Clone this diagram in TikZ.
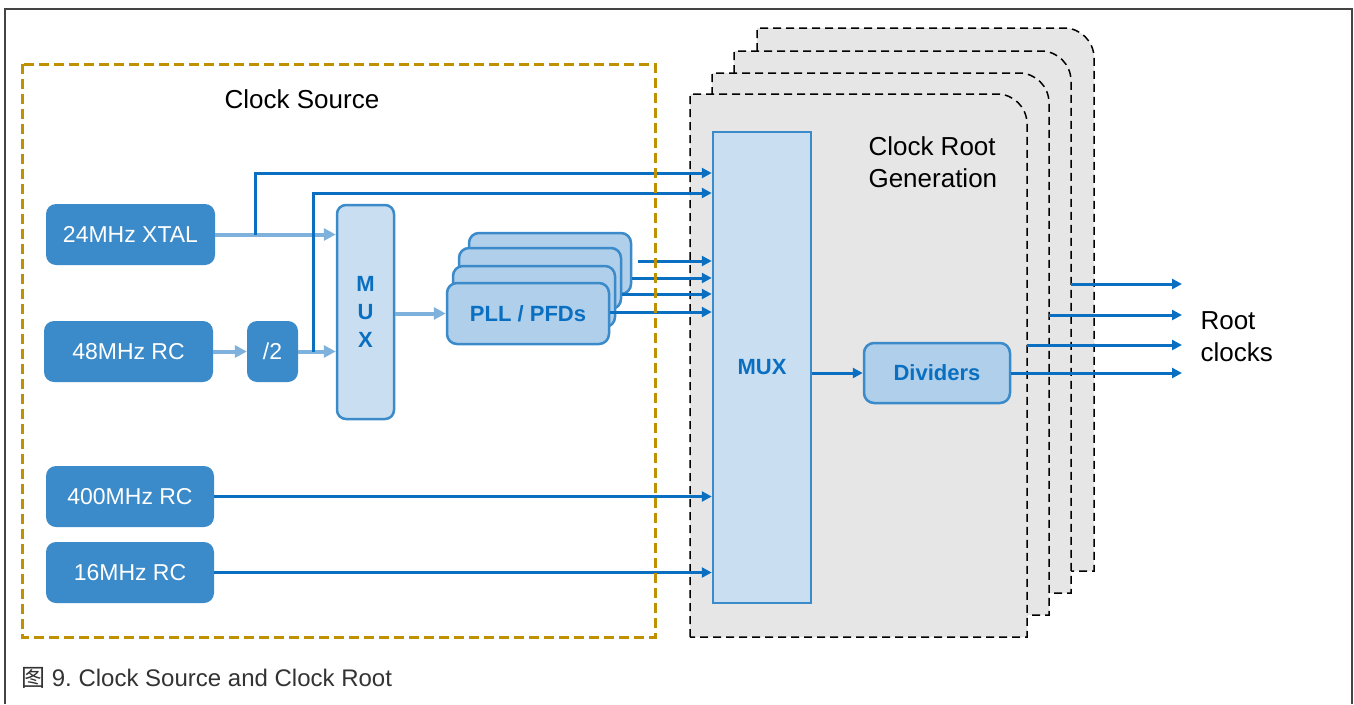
\documentclass[tikz,border=0pt]{standalone}
\usepackage{fontspec}
\setmainfont{Liberation Sans}
\newfontfamily\cjk{Noto Sans CJK SC}
\usetikzlibrary{arrows.meta,calc}

\definecolor{srcblue}{HTML}{3B8AC9}
\definecolor{lineblue}{HTML}{0A6FC0}
\definecolor{lightarrow}{HTML}{7EB1DC}
\definecolor{muxfill}{HTML}{C9DFF1}
\definecolor{pllfill}{HTML}{AFCFEA}
\definecolor{edgeblue}{HTML}{3B8AC9}
\definecolor{cardgrey}{HTML}{E6E6E6}
\definecolor{srcgold}{HTML}{BF9000}
\definecolor{framegrey}{HTML}{444444}
\definecolor{captiongrey}{HTML}{333333}

% one card of the clock-root stack: left, top, right, bottom
\newcommand\cardshape[4]{%
  \path[card] (#1,#4) -- (#1,#2) -- ({#3-30},#2)
    .. controls ({#3-13.4},#2) and (#3,{#2+13.4}) .. (#3,{#2+30})
    -- (#3,#4) -- cycle;}

\begin{document}
\begin{tikzpicture}[x=1pt,y=-1pt,
  txt/.style={font=\fontsize{26}{32}\selectfont, text=black},
  srcbox/.style={rectangle, rounded corners=10pt, fill=srcblue, draw=none,
    text=white, font=\fontsize{23}{26}\selectfont, inner sep=0pt},
  muxbox/.style={rectangle, fill=muxfill, draw=edgeblue, line width=2.5pt,
    text=lineblue, font=\bfseries\fontsize{22}{28}\selectfont, inner sep=0pt},
  pllbox/.style={rectangle, rounded corners=10pt, fill=pllfill, draw=edgeblue,
    line width=2.5pt, text=lineblue, font=\bfseries\fontsize{22}{26}\selectfont,
    minimum width=162pt, minimum height=61pt, inner sep=0pt},
  card/.style={fill=cardgrey, draw=black, line width=1.5pt,
    dash pattern=on 8pt off 5pt},
  sig/.style={draw=lineblue, line width=3pt,
    -{Triangle[length=10pt,width=10pt]}},
  soft/.style={draw=lightarrow, line width=4pt,
    -{Triangle[length=12pt,width=12pt]}},
]
\useasboundingbox (0,0) rectangle (1354,704);

% outer frame
\draw[framegrey, line width=2.2pt] (5,704) -- (5,9) -- (1352,9) -- (1352,704);

% clock root generation cards, back to front
\cardshape{757}{28}{1094}{571}
\cardshape{734}{51}{1071}{593}
\cardshape{712}{73}{1049}{615}
\cardshape{690}{94}{1027}{637}

\node[txt, anchor=north west, align=left] (crg) at (865,133) {Clock Root\\Generation};

% clock sources
\node[srcbox, minimum width=169pt, minimum height=61pt] (xtal) at (130.5,234.5) {24MHz XTAL};
\node[srcbox, minimum width=169pt, minimum height=61pt] (rc48) at (128.5,351.5) {48MHz RC};
\node[srcbox, minimum width=51pt, minimum height=61pt] (half) at (272.5,351.5) {/2};
\node[srcbox, minimum width=168pt, minimum height=61pt] (rc400) at (130,496.5) {400MHz RC};
\node[srcbox, minimum width=168pt, minimum height=61pt] (rc16) at (130,572.5) {16MHz RC};

% source mux
\node[muxbox, rounded corners=9pt, minimum width=57pt, minimum height=214pt,
  align=center] (smux) at (365.5,312) {M\\U\\X};

% PLL / PFD stack
\node[pllbox] (pll1) at (550,263.5) {};
\node[pllbox] (pll2) at (540,278.5) {};
\node[pllbox] (pll3) at (534,296.5) {};
\node[pllbox] (pll4) at (528,313.5) {PLL / PFDs};

% clock root mux and dividers
\node[muxbox, minimum width=98pt, minimum height=471pt] (rmux) at (762,367.5) {MUX};
\node[pllbox, minimum width=146pt, minimum height=60pt] (divs) at (937,373) {Dividers};

% light feeds into the source mux and the PLLs
\draw[soft] (xtal.east) -- (smux.west |- xtal.east);
\draw[soft] (rc48.east) -- (half.west);
\draw[soft] (half.east) -- (smux.west |- half.east);
\draw[soft] (smux.east |- pll4.west) -- (pll4.west);

% direct feeds into the root mux
\coordinate (tapx) at (255,234.5);
\coordinate (tapd) at (313,351.5);
\draw[sig] (tapx) |- (rmux.west |- 0,173);
\draw[sig] (tapd) |- (rmux.west |- 0,193);
\coordinate (pllout) at (638,261);
\draw[sig] (pllout) -- (rmux.west |- pllout);
\draw[sig] (pll1.east |- 0,278) -- (rmux.west |- 0,278);
\draw[sig] (pll2.east |- 0,294) -- (rmux.west |- 0,294);
\draw[sig] (pll4.east |- 0,312) -- (rmux.west |- 0,312);
\draw[sig] (rc400.east) -- (rmux.west |- rc400.east);
\draw[sig] (rc16.east) -- (rmux.west |- rc16.east);

% root mux to dividers
\draw[sig] (rmux.east |- divs.west) -- (divs.west);

% root clock outputs
\coordinate (o1) at (1071,284);
\coordinate (o2) at (1049,315);
\coordinate (o3) at (1027,345);
\coordinate (e1) at (1182,284);
\coordinate (e2) at (1182,315);
\coordinate (e3) at (1182,345);
\coordinate (e4) at (1182,373);
\draw[sig] (o1) -- (e1);
\draw[sig] (o2) -- (e2);
\draw[sig] (o3) -- (e3);
\draw[sig] (divs.east) -- (e4);
\node[txt, anchor=west, align=left] (rootclk) at (1197,337) {Root\\clocks};

% clock source boundary
\draw[srcgold, line width=3pt, dash pattern=on 10pt off 5pt] (22,64) rectangle (655,637);
\node[txt] (cs) at (302,99) {Clock Source};

% caption
\node[anchor=west, text=captiongrey, font=\fontsize{24}{28}\selectfont,
  inner sep=0pt] (cap) at (21,678) {{\cjk 图}~9.\ Clock Source and Clock Root};
\end{tikzpicture}
\end{document}
